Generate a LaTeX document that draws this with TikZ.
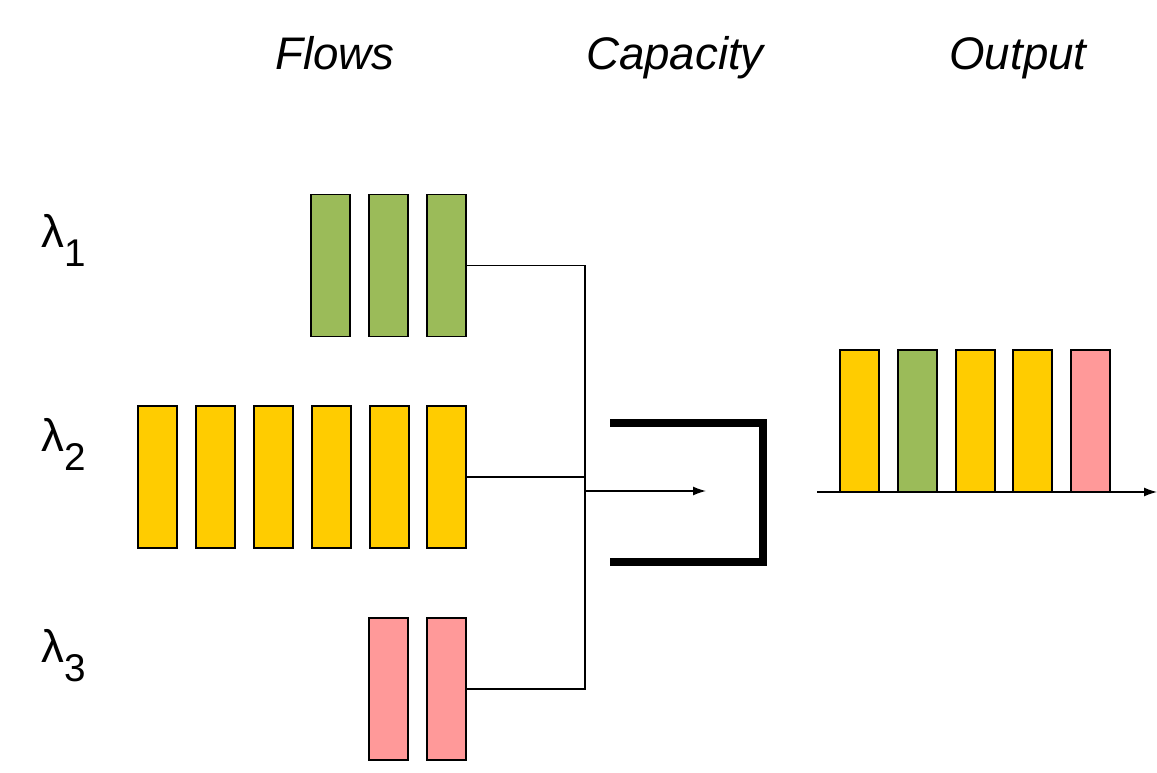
\documentclass[tikz,border=0pt]{standalone}
\usepackage{fontspec}
\setmainfont{Liberation Sans}
\usetikzlibrary{arrows.meta}
\definecolor{fgreen}{HTML}{9BBB59}
\definecolor{fyellow}{HTML}{FFCC00}
\definecolor{fpink}{HTML}{FF9999}
\begin{document}
\begin{tikzpicture}[x=0.02cm,y=-0.02cm,
  pkt/.style={draw=black,line width=1.1pt,minimum width=0.78cm,minimum height=2.84cm,inner sep=0pt},
  conn/.style={line width=0.75pt},
  title/.style={font=\fontsize{26}{30}\selectfont\itshape,anchor=base,inner sep=0pt},
  lam/.style={font=\fontsize{26}{30}\selectfont,anchor=base west,inner sep=0pt},
  sub/.style={font=\fontsize{22}{26}\selectfont,anchor=base west,inner sep=0pt}]
\useasboundingbox (0,0) rectangle (1157,773);
% titles
\node[title] (tflows) at (335,70) {Flows};
\node[title] (tcap) at (675,70) {Capacity};
\node[title] (tout) at (1018,70) {Output};
% lambda labels
\node[lam] (l1) at (41,248) {λ};
\node[sub] (s1) at (l1.base east) [yshift=-0.38cm] {1};
\node[lam] (l2) at (41,452) {λ};
\node[sub] (s2) at (l2.base east) [yshift=-0.38cm] {2};
\node[lam] (l3) at (41,663) {λ};
\node[sub] (s3) at (l3.base east) [yshift=-0.38cm] {3};
% flow 1
\node[pkt,fill=fgreen] (g1) at (330.5,265.5) {};
\node[pkt,fill=fgreen] (g2) at (388.5,265.5) {};
\node[pkt,fill=fgreen] (g3) at (446.5,265.5) {};
% flow 2
\node[pkt,fill=fyellow] (y1) at (157.5,477) {};
\node[pkt,fill=fyellow] (y2) at (215.5,477) {};
\node[pkt,fill=fyellow] (y3) at (273.5,477) {};
\node[pkt,fill=fyellow] (y4) at (331.5,477) {};
\node[pkt,fill=fyellow] (y5) at (389.5,477) {};
\node[pkt,fill=fyellow] (y6) at (446.5,477) {};
% flow 3
\node[pkt,fill=fpink] (p1) at (388.5,689) {};
\node[pkt,fill=fpink] (p2) at (446.5,689) {};
% connectors
\coordinate (jb) at (585,689);
\coordinate (ja) at (585,491);
\coordinate (cap) at (706,491);
\draw[conn] (g3.east) -| (jb) -- (p2.east);
\draw[conn] (y6.east) -- (y6.east -| jb);
\draw[conn,-{Latex[length=2.6mm,width=1.8mm]}] (ja) -- (cap);
% capacity bracket
\draw[line width=4pt] (610,423) -- (763,423) -- (763,562) -- (610,562);
% output
\coordinate (ax0) at (817,492);
\coordinate (ax1) at (1157,492);
\draw[conn,-{Latex[length=2.6mm,width=1.8mm]}] (ax0) -- (ax1);
\node[pkt,fill=fyellow] (o1) at (859.5,421) {};
\node[pkt,fill=fgreen] (o2) at (917.5,421) {};
\node[pkt,fill=fyellow] (o3) at (975.5,421) {};
\node[pkt,fill=fyellow] (o4) at (1032.5,421) {};
\node[pkt,fill=fpink] (o5) at (1090.5,421) {};
\end{tikzpicture}
\end{document}
